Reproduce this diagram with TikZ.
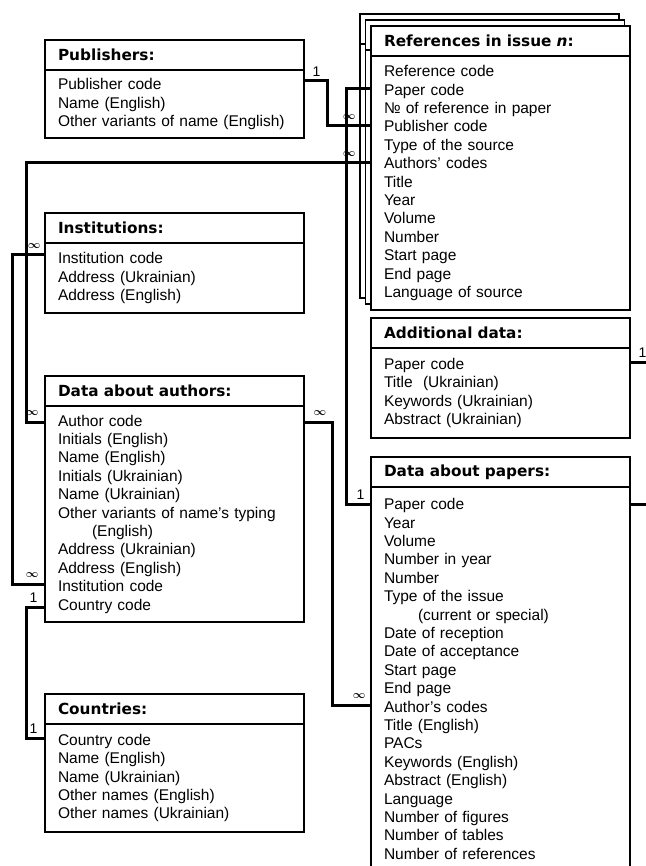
\documentclass[tikz,border=0pt]{standalone}
\usepackage{fontspec}
\setmainfont{Liberation Sans}
\newfontfamily\headfont{DejaVu Sans}
\usetikzlibrary{positioning}

\begin{document}
\begin{tikzpicture}[x=1pt, y=-1pt,
    title/.style={draw, line width=1.6pt, outer sep=0pt, anchor=north west, minimum height=30pt,
        inner xsep=13pt, text width=233pt, align=left, font=\headfont\bfseries\fontsize{15.3}{18}\selectfont},
    fields/.style={draw, line width=1.6pt, outer sep=0pt, below=0pt of #1, inner xsep=13pt,
        text width=233pt, align=left, font=\fontsize{15.5}{18.4}\selectfont},
    link/.style={line width=3pt},
    num/.style={inner sep=1pt, font=\fontsize{14}{14}\selectfont},
    many/.style={inner sep=1pt, font=\fontsize{10.5}{11}\selectfont\boldmath}]
    \useasboundingbox (0,0) rectangle (645,866);

    % left column
    \node[title] (pubhead) at (45,40) {Publishers:};
    \node[fields=pubhead, minimum height=68pt] (pub) {Publisher code\\ Name (English)\\ Other variants of name (English)};

    \node[title] (insthead) at (45,213) {Institutions:};
    \node[fields=insthead, minimum height=70pt] (inst) {Institution code\\ Address (Ukrainian)\\ Address (English)};

    \node[title] (authhead) at (45,376) {Data about authors:};
    \node[fields=authhead, minimum height=216pt] (authors) {Author code\\ Initials (English)\\ Name (English)\\
        Initials (Ukrainian)\\ Name (Ukrainian)\\ Other variants of name’s typing\\ \hspace*{34pt}(English)\\
        Address (Ukrainian)\\ Address (English)\\ Institution code\\ Country code};

    \node[title] (counthead) at (45,694) {Countries:};
    \node[fields=counthead, minimum height=108pt] (countries) {Country code\\ Name (English)\\ Name (Ukrainian)\\
        Other names (English)\\ Other names (Ukrainian)};

    % right column, one card per issue
    \node[title, fill=white] (refhead3) at (360,14) {};
    \node[fields=refhead3, fill=white, minimum height=254pt] (refs3) {};
    \node[title, fill=white] (refhead2) at (365.5,20) {};
    \node[fields=refhead2, fill=white, minimum height=254pt] (refs2) {};
    \node[title, fill=white] (refhead) at (371,26) {References in issue \textit{n}:};
    \node[fields=refhead, fill=white, minimum height=254pt] (refs) {Reference code\\ Paper code\\ № of reference in paper\\
        Publisher code\\ Type of the source\\ Authors’ codes\\ Title\\ Year\\ Volume\\ Number\\ Start page\\ End page\\
        Language of source};

    \node[title] (addhead) at (371,318) {Additional data:};
    \node[fields=addhead, minimum height=90pt] (additional) {Paper code\\ Title\ \ (Ukrainian)\\ Keywords (Ukrainian)\\
        Abstract (Ukrainian)};

    \node[title] (paphead) at (371,457) {Data about papers:};
    \node[fields=paphead, minimum height=384pt] (papers) {Paper code\\ Year\\ Volume\\ Number in year\\ Number\\
        Type of the issue\\ \hspace*{34pt}(current or special)\\ Date of reception\\ Date of acceptance\\ Start page\\
        End page\\ Author’s codes\\ Title (English)\\ PACs\\ Keywords (English)\\ Abstract (English)\\ Language\\
        Number of figures\\ Number of tables\\ Number of references};

    % links
    \draw[link] ([yshift=-11pt]pub.north east) node[num, above right=2pt and 6pt]{1} -- ++(23,0)
        |- ([yshift=-70pt]refs.north west) node[many, above left=4pt and 13pt]{$\infty$};
    \draw[link] ([yshift=-33pt]refs.north west) -- ++(-25,0)
        |- ([yshift=-17pt]papers.north west) node[num, above left=2pt and 4pt]{1};
    \draw[link] ([yshift=-107pt]refs.north west) node[many, above left=4pt and 13pt]{$\infty$} -- ++(-345,0)
        |- ([yshift=-16pt]authors.north west) node[many, above left=4pt and 4pt]{$\infty$};
    \draw[link] ([yshift=-12pt]inst.north west) node[many, above left=4pt and 2pt]{$\infty$} -- ++(-33,0)
        |- ([yshift=-178pt]authors.north west) node[many, above left=4pt and 4pt]{$\infty$};
    \draw[link] ([yshift=-201pt]authors.north west) node[num, above left=2pt and 5pt]{1} -- ++(-19,0)
        |- ([yshift=-14pt]countries.north west) node[num, above left=2pt and 5pt]{1};
    \draw[link] ([yshift=-16pt]authors.north east) node[many, above right=4pt and 7pt]{$\infty$} -- ++(28,0)
        |- ([yshift=-218pt]papers.north west) node[many, above left=4pt and 3pt]{$\infty$};
    \draw[link] ([yshift=-14pt]additional.north east) node[num, above right=2pt and 6pt]{1} -- ++(20,0);
    \draw[link] ([yshift=-17pt]papers.north east) -- ++(20,0);
\end{tikzpicture}
\end{document}
